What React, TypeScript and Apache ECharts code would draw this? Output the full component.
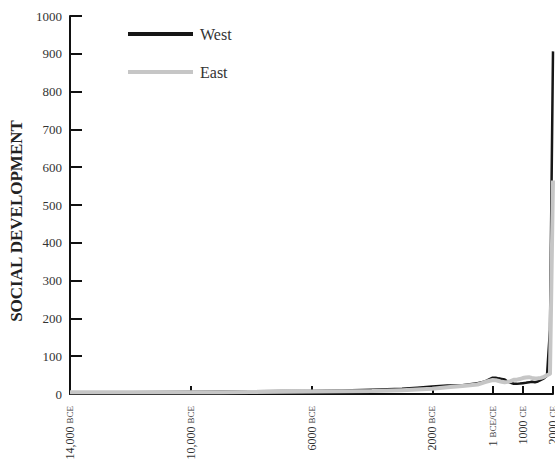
import React, { useEffect, useRef } from "react";
import * as echarts from "echarts";

// Years (negative = BCE)
const years = [
  -14000, -13000, -12000, -11000, -10000, -9000, -8000, -7000, -6000, -5000,
  -4000, -3000, -2500, -2000, -1500, -1000, -500, -250, 0, 100, 200, 300, 400,
  500, 600, 700, 800, 900, 1000, 1100, 1200, 1300, 1400, 1500, 1600, 1700,
  1800, 1900, 2000,
];

const westValues = [
  4.35, 4.36, 4.9, 5.45, 5.99, 6.54, 7.08, 7.62, 8.17, 9.26, 11.1, 13.7, 16.6,
  20.1, 22.5, 23.1, 28.4, 33.4, 43.2, 43.3, 41.4, 40.0, 38.6, 32.7, 29.7, 27.2,
  26.8, 27.6, 28.7, 29.6, 30.8, 32.5, 31.2, 33.1, 37.4, 41.6, 48.0, 170.1,
  906.4,
];

const eastValues = [
  4.36, 4.36, 4.36, 4.36, 4.36, 4.9, 5.45, 5.99, 6.54, 7.08, 7.63, 10.1, 11.8,
  13.6, 17.7, 21.1, 25.2, 31.6, 36.9, 36.6, 34.4, 32.2, 31.0, 32.1, 34.1, 37.6,
  38.0, 39.6, 42.2, 43.8, 44.6, 42.6, 40.9, 41.5, 42.7, 45.6, 49.6, 53.7,
  564.8,
];

const xTickValues = [-14000, -10000, -6000, -2000, 0, 1000, 2000];
const xTickNumbers = ["14,000", "10,000", "6000", "2000", "1", "1000", "2000"];
const xTickEras = ["BCE", "BCE", "BCE", "BCE", "BCE/CE", "CE", "CE"];

const seriesNames = ["West", "East"];
const yAxisName = "SOCIAL DEVELOPMENT";

const FONT = "'Liberation Serif', 'DejaVu Serif', serif";
const WEST_COLOR = "#161616";
const EAST_COLOR = "#c6c6c6";

export default function App() {
  const ref = useRef<HTMLDivElement>(null);

  useEffect(() => {
    if (!ref.current) return;
    const chart = echarts.init(ref.current, null, { renderer: "svg" });
    const west = years.map((y, i) => [y, westValues[i]]);
    const east = years.map((y, i) => [y, eastValues[i]]);

    chart.setOption({
      animation: false,
      backgroundColor: "#ffffff",
      textStyle: { fontFamily: FONT },
      grid: {
        left: 70,
        right: 2,
        top: 16,
        bottom: 70,
        containLabel: false,
        outerBoundsMode: "none",
      },
      legend: {
        orient: "vertical",
        left: 128,
        top: 26,
        padding: 0,
        itemWidth: 65,
        itemHeight: 4,
        itemGap: 22,
        data: [
          { name: seriesNames[0], icon: "rect", itemStyle: { color: WEST_COLOR } },
          { name: seriesNames[1], icon: "rect", itemStyle: { color: EAST_COLOR } },
        ],
        textStyle: {
          fontFamily: FONT,
          fontSize: 16,
          lineHeight: 14,
          color: "#333",
          padding: [0, 0, 0, 2],
        },
      },
      xAxis: {
        type: "value",
        min: -14000,
        max: 2000,
        splitLine: { show: false },
        axisLine: { show: true, onZero: false, lineStyle: { color: "#111", width: 2 } },
        axisTick: {
          show: true,
          inside: true,
          length: 8,
          customValues: xTickValues,
          lineStyle: { color: "#111", width: 2 },
        },
        axisLabel: {
          show: true,
          rotate: 90,
          margin: 12,
          hideOverlap: false,
          customValues: xTickValues,
          formatter: (v: number) => {
            const i = xTickValues.indexOf(v);
            if (i < 0) return "";
            return `{n|${xTickNumbers[i]}} {s|${xTickEras[i]}}`;
          },
          rich: {
            n: { fontFamily: FONT, fontSize: 12, color: "#333" },
            s: { fontFamily: FONT, fontSize: 9, color: "#333" },
          },
        },
      },
      yAxis: {
        type: "value",
        min: 0,
        max: 1000,
        interval: 100,
        name: yAxisName,
        nameLocation: "middle",
        nameGap: 44,
        nameTextStyle: {
          fontFamily: FONT,
          fontSize: 17,
          fontWeight: "bold",
          color: "#222",
          padding: [0, 32, 0, 0],
        },
        splitLine: { show: false },
        axisLine: { show: true, onZero: false, lineStyle: { color: "#111", width: 2 } },
        axisTick: {
          show: true,
          inside: true,
          length: 12,
          lineStyle: { color: "#111", width: 2 },
        },
        axisLabel: {
          margin: 8,
          fontFamily: FONT,
          fontSize: 13,
          color: "#333",
          formatter: (v: number) => String(v),
        },
      },
      series: [
        {
          name: seriesNames[0],
          type: "line",
          data: west,
          symbol: "none",
          smooth: false,
          clip: false,
          lineStyle: { color: WEST_COLOR, width: 2.5, join: "round" },
          itemStyle: { color: WEST_COLOR },
          z: 2,
        },
        {
          name: seriesNames[1],
          type: "line",
          data: east,
          symbol: "none",
          smooth: false,
          clip: false,
          lineStyle: { color: EAST_COLOR, width: 4, join: "round" },
          itemStyle: { color: EAST_COLOR },
          z: 3,
        },
      ],
    });
    return () => chart.dispose();
  }, []);

  return (
    <div
      ref={ref}
      style={{ position: "fixed", left: 0, top: 0, width: 555, height: 464 }}
    />
  );
}
